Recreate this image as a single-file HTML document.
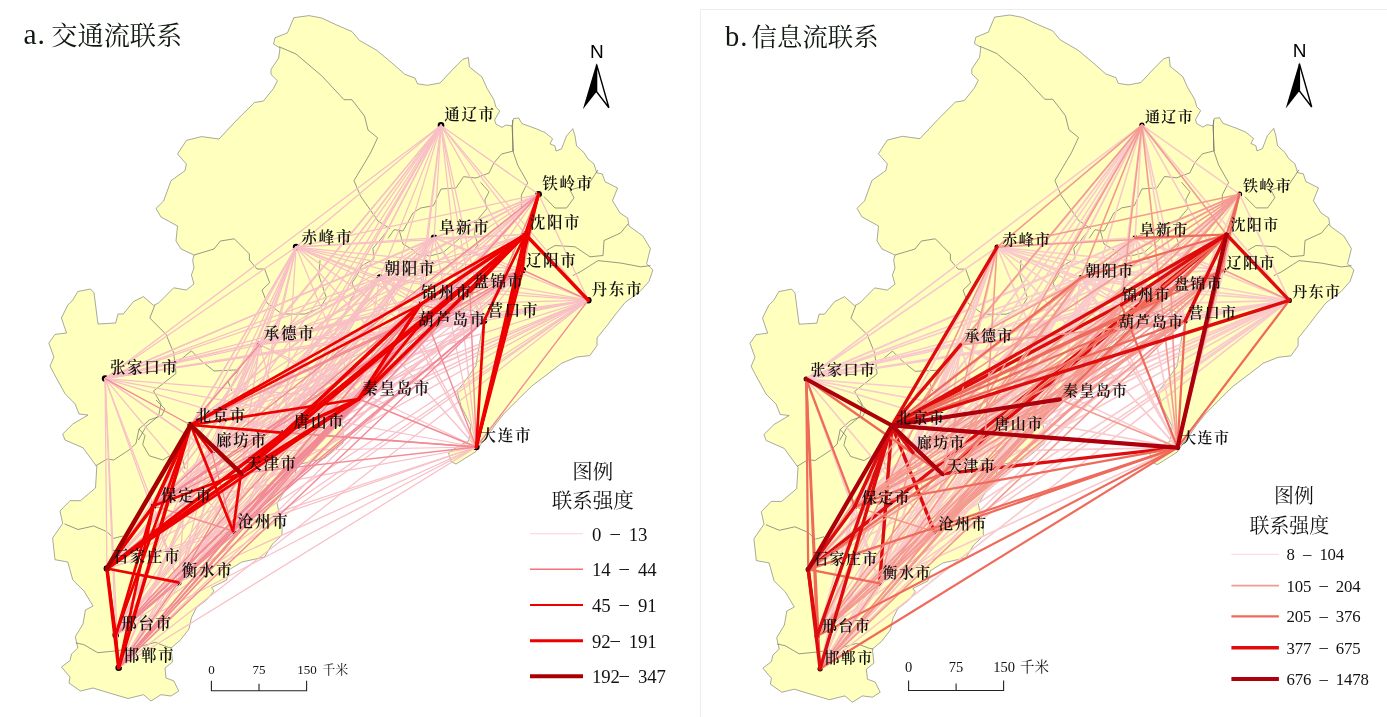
<!DOCTYPE html>
<html lang="zh"><head><meta charset="utf-8"><title>交通流与信息流联系</title><style>
html,body{margin:0;padding:0;background:#fff}
svg{display:block}
.land{fill:#ffffbe;stroke:#6e6e6e;stroke-width:.6;stroke-linejoin:round}
.inner{fill:none;stroke:#6c6c6c;stroke-width:.7}
line{stroke-linecap:round}
line.lg{stroke-linecap:butt}
line.lg.a1{stroke:#fbd3d8;stroke-width:1.1}line.lg.a2{stroke:#f4707a;stroke-width:1.6}line.lg.a3{stroke-width:2}line.lg.a4{stroke-width:3}line.lg.a5{stroke-width:4}
line.lg.b1{stroke:#f9d6da;stroke-width:1}
.a1 line,line.a1{stroke:#f8bfc6;stroke-width:1.25}
.a2 line,line.a2{stroke:#f28a95;stroke-width:1.4}
.a3 line,line.a3{stroke:#ee0000;stroke-width:2.7}
.a4 line,line.a4{stroke:#ee0000;stroke-width:3.5}
.a5 line,line.a5{stroke:#a80000;stroke-width:4.5}
.b1 line,line.b1{stroke:#f9c9cc;stroke-width:1.6}
.b2 line,line.b2{stroke:#f49a90;stroke-width:1.6}
.b3 line,line.b3{stroke:#ef6a5a;stroke-width:2.2}
.b4 line,line.b4{stroke:#de0c0c;stroke-width:3.4}
.b5 line,line.b5{stroke:#ad000c;stroke-width:4.2}
.lab text{font:600 15.5px "Liberation Serif","Noto Serif CJK SC",serif;fill:#111;letter-spacing:1.7px}
.lab.r text{font-size:15px;letter-spacing:1.4px}
.ttl.ab{font-size:29.5px;letter-spacing:1px}
.ttl{font:400 26.2px "Liberation Serif","Noto Serif CJK SC",serif;fill:#10180f}
.N{font:400 19px "Liberation Sans",sans-serif;fill:#000}
.sb text{font-family:"Liberation Serif","Noto Serif CJK SC",serif;fill:#111}
.lt{font-family:"Liberation Serif","Noto Serif CJK SC",serif;fill:#111}
.ll{font-family:"Liberation Serif","Noto Serif CJK SC",serif;fill:#111}
</style></head><body>
<svg width="1387" height="717" viewBox="0 0 1387 717">
<rect width="1387" height="717" fill="#fff"/>
<path d="M700.5 717V9.5H1387" fill="none" stroke="#ececec" stroke-width="1"/>
<polygon class="land" points="293.8,17.7 309.0,15.6 321.6,18.0 336.7,25.0 351.9,31.5 359.4,40.4 377.0,50.5 392.0,63.0 404.9,74.4 415.0,78.0 417.5,83.8 427.6,85.3 440.0,83.0 452.8,69.4 462.9,59.3 468.4,57.5 469.4,66.9 482.0,77.0 487.0,88.3 493.9,99.7 495.9,107.0 499.7,111.0 494.6,120.0 495.9,124.0 502.0,127.4 506.0,125.0 512.0,126.0 513.5,118.6 518.6,118.0 522.0,123.6 536.0,128.7 545.0,132.5 552.6,138.8 550.0,143.8 555.0,146.0 556.0,151.0 561.5,149.0 566.5,136.0 572.8,128.7 575.0,136.0 576.6,146.0 584.0,152.6 588.0,159.0 594.0,164.0 596.8,172.8 602.4,174.0 605.0,181.7 617.6,188.0 612.5,200.7 620.0,213.0 627.7,218.0 629.0,226.0 642.8,236.0 650.4,248.6 646.6,263.7 652.9,270.0 649.0,281.4 640.0,291.5 625.0,302.6 615.0,315.0 607.5,325.0 597.0,338.0 597.0,345.5 589.8,355.6 577.0,357.0 562.0,363.0 549.0,373.0 531.8,386.0 516.6,401.0 504.0,413.6 496.0,423.7 489.0,433.8 481.0,444.0 476.0,451.5 466.0,457.8 456.0,464.0 451.0,461.6 448.5,452.7 458.6,446.0 468.7,441.0 471.0,426.0 466.0,416.0 461.0,406.0 457.0,391.0 463.6,383.0 476.0,365.7 477.5,355.6 481.0,335.0 484.0,322.8 481.0,317.7 474.0,311.0 462.0,309.0 450.0,313.0 440.0,318.0 432.0,322.0 425.0,330.0 418.0,336.0 408.0,346.0 398.0,358.0 388.0,370.0 378.0,382.0 368.0,392.0 360.0,401.0 352.0,408.0 344.0,414.0 340.0,420.0 343.0,428.0 343.0,443.0 325.0,458.0 297.0,465.0 295.0,475.5 277.0,503.0 282.0,526.0 282.0,535.0 272.0,544.6 264.6,557.0 241.9,562.0 229.0,569.8 226.7,580.0 211.6,587.5 214.0,591.0 206.5,600.0 196.4,607.7 191.4,617.7 189.0,629.0 180.0,640.5 171.0,648.0 172.5,662.0 165.0,668.0 166.0,678.0 173.7,680.8 178.8,691.0 171.0,696.0 161.0,694.7 151.0,701.0 143.5,694.7 128.0,698.5 110.6,693.4 93.0,688.0 80.4,691.0 69.0,683.0 70.0,677.0 61.4,667.0 70.0,660.6 71.5,654.0 77.8,648.0 75.3,636.7 83.0,624.0 85.4,610.0 93.0,606.0 84.0,591.0 72.8,580.0 67.8,562.0 55.0,559.7 52.6,538.0 62.7,523.5 60.0,511.0 70.0,500.7 80.4,500.7 95.5,488.0 96.8,466.7 83.0,447.8 65.0,440.0 62.7,434.0 72.8,424.0 88.0,415.0 79.0,414.0 75.0,403.8 65.0,393.7 53.9,373.5 50.0,366.0 53.9,357.0 48.8,343.0 55.0,334.4 66.5,333.0 61.4,318.0 67.8,305.0 72.8,300.0 77.8,291.5 90.5,289.0 94.0,292.8 98.0,324.0 115.7,323.0 118.0,314.0 123.3,314.0 133.4,301.6 143.5,296.6 153.5,305.4 158.6,303.0 173.7,287.8 186.4,290.0 194.0,284.0 191.4,275.0 194.0,268.0 192.7,260.0 194.0,255.0 181.0,249.0 176.0,241.0 177.5,226.0 161.0,217.0 156.0,208.5 163.6,201.0 171.0,180.7 185.0,170.7 186.4,164.0 177.5,154.0 186.4,140.4 201.5,136.6 219.0,139.0 236.8,120.0 254.5,102.5 263.5,101.0 273.6,88.3 277.4,80.7 271.0,74.4 271.0,69.4 278.7,58.0 280.0,48.0 273.6,44.0 275.0,37.8 287.5,32.8"/>
<polyline class="inner" points="279.0,46.7 296.0,54.0 321.6,75.7 344.0,99.7 352.0,99.7 358.0,107.6 364.5,116.0 368.0,130.0 377.6,137.8 370.5,153.0 354.0,180.7 360.5,196.0 378.0,221.0 390.0,228.7"/>
<polyline class="inner" points="194.0,255.0 214.0,249.0 220.4,241.0 234.3,238.8 249.4,254.0 249.4,260.0 257.0,269.0 264.6,269.0 269.6,282.7 262.0,290.0 267.0,303.0 282.0,314.0 305.0,314.0 320.0,308.0 326.4,297.8 318.8,275.0 320.0,260.0"/>
<polyline class="inner" points="154.8,305.4 149.8,318.0 166.0,334.4 173.7,353.0 176.0,373.5 153.5,391.0 161.0,403.8 158.6,416.0 146.0,426.5 138.4,440.0"/>
<polyline class="inner" points="176.0,363.5 191.4,350.8 201.5,361.0 214.0,371.0 239.0,369.8 228.0,381.0 231.8,391.0"/>
<polyline class="inner" points="512.0,126.0 513.5,151.0 501.5,154.0 494.0,162.8 489.0,173.0 476.0,178.0 463.6,176.7 456.0,188.0 441.0,189.0 433.4,205.7 420.7,208.0 413.0,213.0 403.0,231.0 394.0,229.7 388.0,238.5"/>
<polyline class="inner" points="95.8,465.8 107.0,459.0 113.7,460.0 129.0,450.0 136.0,443.5 139.0,429.0 149.4,420.0 161.7,415.6 165.0,409.0 156.0,400.0"/>
<polyline class="inner" points="139.0,429.0 145.0,435.7 142.7,444.6 149.4,455.8 162.8,460.0 169.5,455.8 183.0,460.0 185.0,469.0"/>
<polyline class="inner" points="64.6,523.9 78.0,529.5 93.6,526.0 107.0,531.7 113.7,538.4 122.6,536.0 129.3,542.9"/>
<polyline class="inner" points="512.6,120.0 512.6,150.0 517.6,165.0 527.7,182.8 521.4,195.0 521.4,210.0"/>
<polyline class="inner" points="544.0,196.6 555.0,208.0 566.6,208.0 574.0,197.8 570.0,190.0 588.0,185.0 598.0,170.0"/>
<polyline class="inner" points="546.5,250.5 555.0,245.5 575.0,246.8 590.0,256.8 603.0,255.5 604.0,240.5 620.5,233.0 628.0,224.0"/>
<polyline class="inner" points="572.8,275.6 580.0,272.0 598.0,260.6 620.5,263.0 640.6,266.8 650.6,265.6"/>
<polyline class="inner" points="75.8,642.9 83.8,644.6 97.7,652.7 115.0,651.0 135.0,648.0 155.3,642.3 166.9,646.9 172.0,648.0"/>
<polyline class="inner" points="387.5,230.5 380.0,240.0 372.9,248.3 374.0,258.8 361.4,266.0 357.0,275.5 352.0,283.0 356.0,292.0 350.0,300.0"/>
<polyline class="inner" points="480.6,182.4 489.0,191.8 484.8,200.0 486.9,208.6 476.4,221.0 474.4,233.7 478.0,245.0 470.0,255.0"/>
<polyline class="inner" points="399.0,229.5 403.0,244.0 413.7,250.4 417.9,254.6 430.0,256.0 443.0,252.5 455.5,242.0 462.0,236.0"/>
<g class="dots"><circle cx="441.0" cy="125.4" r="3.3"/><circle cx="538.6" cy="194.3" r="3.3"/><circle cx="525.5" cy="234.5" r="3.3"/><circle cx="434.1" cy="237.8" r="3.3"/><circle cx="296.1" cy="247.1" r="3.3"/><circle cx="379.9" cy="277.6" r="3.3"/><circle cx="420.3" cy="304.6" r="3.3"/><circle cx="470.0" cy="292.0" r="3.3"/><circle cx="522.7" cy="270.0" r="3.3"/><circle cx="588.3" cy="300.2" r="3.3"/><circle cx="484.0" cy="320.8" r="3.3"/><circle cx="415.0" cy="330.6" r="3.3"/><circle cx="259.5" cy="344.5" r="3.3"/><circle cx="105.1" cy="378.6" r="3.3"/><circle cx="358.7" cy="399.0" r="3.3"/><circle cx="190.7" cy="425.0" r="3.3"/><circle cx="284.0" cy="432.8" r="3.3"/><circle cx="211.8" cy="452.0" r="3.3"/><circle cx="241.0" cy="473.3" r="3.3"/><circle cx="476.3" cy="447.0" r="3.3"/><circle cx="153.5" cy="505.8" r="3.3"/><circle cx="233.0" cy="531.0" r="3.3"/><circle cx="106.9" cy="568.5" r="3.3"/><circle cx="178.3" cy="582.4" r="3.3"/><circle cx="115.7" cy="635.0" r="3.3"/><circle cx="118.7" cy="667.7" r="3.3"/></g>
<g class="a1"><line x1="441.0" y1="125.4" x2="538.6" y2="194.3"/><line x1="441.0" y1="125.4" x2="525.5" y2="234.5"/><line x1="441.0" y1="125.4" x2="434.1" y2="237.8"/><line x1="441.0" y1="125.4" x2="296.1" y2="247.1"/><line x1="441.0" y1="125.4" x2="379.9" y2="277.6"/><line x1="441.0" y1="125.4" x2="420.3" y2="304.6"/><line x1="441.0" y1="125.4" x2="470.0" y2="292.0"/><line x1="441.0" y1="125.4" x2="522.7" y2="270.0"/><line x1="441.0" y1="125.4" x2="588.3" y2="300.2"/><line x1="441.0" y1="125.4" x2="484.0" y2="320.8"/><line x1="441.0" y1="125.4" x2="415.0" y2="330.6"/><line x1="441.0" y1="125.4" x2="259.5" y2="344.5"/><line x1="441.0" y1="125.4" x2="105.1" y2="378.6"/><line x1="441.0" y1="125.4" x2="358.7" y2="399.0"/><line x1="441.0" y1="125.4" x2="190.7" y2="425.0"/><line x1="441.0" y1="125.4" x2="284.0" y2="432.8"/><line x1="441.0" y1="125.4" x2="211.8" y2="452.0"/><line x1="441.0" y1="125.4" x2="241.0" y2="473.3"/><line x1="441.0" y1="125.4" x2="476.3" y2="447.0"/><line x1="441.0" y1="125.4" x2="153.5" y2="505.8"/><line x1="441.0" y1="125.4" x2="233.0" y2="531.0"/><line x1="441.0" y1="125.4" x2="106.9" y2="568.5"/><line x1="441.0" y1="125.4" x2="178.3" y2="582.4"/><line x1="441.0" y1="125.4" x2="115.7" y2="635.0"/><line x1="441.0" y1="125.4" x2="118.7" y2="667.7"/><line x1="538.6" y1="194.3" x2="434.1" y2="237.8"/><line x1="538.6" y1="194.3" x2="296.1" y2="247.1"/><line x1="538.6" y1="194.3" x2="379.9" y2="277.6"/><line x1="538.6" y1="194.3" x2="420.3" y2="304.6"/><line x1="538.6" y1="194.3" x2="470.0" y2="292.0"/><line x1="538.6" y1="194.3" x2="588.3" y2="300.2"/><line x1="538.6" y1="194.3" x2="415.0" y2="330.6"/><line x1="538.6" y1="194.3" x2="259.5" y2="344.5"/><line x1="538.6" y1="194.3" x2="105.1" y2="378.6"/><line x1="538.6" y1="194.3" x2="358.7" y2="399.0"/><line x1="538.6" y1="194.3" x2="190.7" y2="425.0"/><line x1="538.6" y1="194.3" x2="284.0" y2="432.8"/><line x1="538.6" y1="194.3" x2="241.0" y2="473.3"/><line x1="538.6" y1="194.3" x2="153.5" y2="505.8"/><line x1="538.6" y1="194.3" x2="106.9" y2="568.5"/><line x1="538.6" y1="194.3" x2="178.3" y2="582.4"/><line x1="538.6" y1="194.3" x2="115.7" y2="635.0"/><line x1="538.6" y1="194.3" x2="118.7" y2="667.7"/><line x1="525.5" y1="234.5" x2="434.1" y2="237.8"/><line x1="525.5" y1="234.5" x2="296.1" y2="247.1"/><line x1="525.5" y1="234.5" x2="379.9" y2="277.6"/><line x1="525.5" y1="234.5" x2="259.5" y2="344.5"/><line x1="525.5" y1="234.5" x2="105.1" y2="378.6"/><line x1="525.5" y1="234.5" x2="211.8" y2="452.0"/><line x1="525.5" y1="234.5" x2="153.5" y2="505.8"/><line x1="525.5" y1="234.5" x2="233.0" y2="531.0"/><line x1="525.5" y1="234.5" x2="106.9" y2="568.5"/><line x1="525.5" y1="234.5" x2="118.7" y2="667.7"/><line x1="434.1" y1="237.8" x2="296.1" y2="247.1"/><line x1="434.1" y1="237.8" x2="379.9" y2="277.6"/><line x1="434.1" y1="237.8" x2="420.3" y2="304.6"/><line x1="434.1" y1="237.8" x2="470.0" y2="292.0"/><line x1="434.1" y1="237.8" x2="522.7" y2="270.0"/><line x1="434.1" y1="237.8" x2="588.3" y2="300.2"/><line x1="434.1" y1="237.8" x2="484.0" y2="320.8"/><line x1="434.1" y1="237.8" x2="415.0" y2="330.6"/><line x1="434.1" y1="237.8" x2="259.5" y2="344.5"/><line x1="434.1" y1="237.8" x2="105.1" y2="378.6"/><line x1="434.1" y1="237.8" x2="358.7" y2="399.0"/><line x1="434.1" y1="237.8" x2="190.7" y2="425.0"/><line x1="434.1" y1="237.8" x2="284.0" y2="432.8"/><line x1="434.1" y1="237.8" x2="211.8" y2="452.0"/><line x1="434.1" y1="237.8" x2="241.0" y2="473.3"/><line x1="434.1" y1="237.8" x2="476.3" y2="447.0"/><line x1="434.1" y1="237.8" x2="153.5" y2="505.8"/><line x1="434.1" y1="237.8" x2="233.0" y2="531.0"/><line x1="434.1" y1="237.8" x2="106.9" y2="568.5"/><line x1="434.1" y1="237.8" x2="178.3" y2="582.4"/><line x1="434.1" y1="237.8" x2="115.7" y2="635.0"/><line x1="434.1" y1="237.8" x2="118.7" y2="667.7"/><line x1="296.1" y1="247.1" x2="379.9" y2="277.6"/><line x1="296.1" y1="247.1" x2="420.3" y2="304.6"/><line x1="296.1" y1="247.1" x2="470.0" y2="292.0"/><line x1="296.1" y1="247.1" x2="522.7" y2="270.0"/><line x1="296.1" y1="247.1" x2="588.3" y2="300.2"/><line x1="296.1" y1="247.1" x2="484.0" y2="320.8"/><line x1="296.1" y1="247.1" x2="415.0" y2="330.6"/><line x1="296.1" y1="247.1" x2="259.5" y2="344.5"/><line x1="296.1" y1="247.1" x2="105.1" y2="378.6"/><line x1="296.1" y1="247.1" x2="358.7" y2="399.0"/><line x1="296.1" y1="247.1" x2="190.7" y2="425.0"/><line x1="296.1" y1="247.1" x2="284.0" y2="432.8"/><line x1="296.1" y1="247.1" x2="211.8" y2="452.0"/><line x1="296.1" y1="247.1" x2="241.0" y2="473.3"/><line x1="296.1" y1="247.1" x2="476.3" y2="447.0"/><line x1="296.1" y1="247.1" x2="153.5" y2="505.8"/><line x1="296.1" y1="247.1" x2="233.0" y2="531.0"/><line x1="296.1" y1="247.1" x2="106.9" y2="568.5"/><line x1="296.1" y1="247.1" x2="178.3" y2="582.4"/><line x1="296.1" y1="247.1" x2="115.7" y2="635.0"/><line x1="296.1" y1="247.1" x2="118.7" y2="667.7"/><line x1="379.9" y1="277.6" x2="420.3" y2="304.6"/><line x1="379.9" y1="277.6" x2="470.0" y2="292.0"/><line x1="379.9" y1="277.6" x2="522.7" y2="270.0"/><line x1="379.9" y1="277.6" x2="588.3" y2="300.2"/><line x1="379.9" y1="277.6" x2="484.0" y2="320.8"/><line x1="379.9" y1="277.6" x2="415.0" y2="330.6"/><line x1="379.9" y1="277.6" x2="259.5" y2="344.5"/><line x1="379.9" y1="277.6" x2="105.1" y2="378.6"/><line x1="379.9" y1="277.6" x2="358.7" y2="399.0"/><line x1="379.9" y1="277.6" x2="190.7" y2="425.0"/><line x1="379.9" y1="277.6" x2="284.0" y2="432.8"/><line x1="379.9" y1="277.6" x2="211.8" y2="452.0"/><line x1="379.9" y1="277.6" x2="241.0" y2="473.3"/><line x1="379.9" y1="277.6" x2="476.3" y2="447.0"/><line x1="379.9" y1="277.6" x2="153.5" y2="505.8"/><line x1="379.9" y1="277.6" x2="233.0" y2="531.0"/><line x1="379.9" y1="277.6" x2="106.9" y2="568.5"/><line x1="379.9" y1="277.6" x2="178.3" y2="582.4"/><line x1="379.9" y1="277.6" x2="115.7" y2="635.0"/><line x1="379.9" y1="277.6" x2="118.7" y2="667.7"/><line x1="420.3" y1="304.6" x2="470.0" y2="292.0"/><line x1="420.3" y1="304.6" x2="588.3" y2="300.2"/><line x1="420.3" y1="304.6" x2="415.0" y2="330.6"/><line x1="420.3" y1="304.6" x2="259.5" y2="344.5"/><line x1="420.3" y1="304.6" x2="105.1" y2="378.6"/><line x1="420.3" y1="304.6" x2="211.8" y2="452.0"/><line x1="420.3" y1="304.6" x2="153.5" y2="505.8"/><line x1="420.3" y1="304.6" x2="178.3" y2="582.4"/><line x1="470.0" y1="292.0" x2="522.7" y2="270.0"/><line x1="470.0" y1="292.0" x2="588.3" y2="300.2"/><line x1="470.0" y1="292.0" x2="484.0" y2="320.8"/><line x1="470.0" y1="292.0" x2="415.0" y2="330.6"/><line x1="470.0" y1="292.0" x2="259.5" y2="344.5"/><line x1="470.0" y1="292.0" x2="105.1" y2="378.6"/><line x1="470.0" y1="292.0" x2="358.7" y2="399.0"/><line x1="470.0" y1="292.0" x2="211.8" y2="452.0"/><line x1="470.0" y1="292.0" x2="241.0" y2="473.3"/><line x1="470.0" y1="292.0" x2="233.0" y2="531.0"/><line x1="470.0" y1="292.0" x2="106.9" y2="568.5"/><line x1="522.7" y1="270.0" x2="484.0" y2="320.8"/><line x1="522.7" y1="270.0" x2="259.5" y2="344.5"/><line x1="522.7" y1="270.0" x2="105.1" y2="378.6"/><line x1="522.7" y1="270.0" x2="358.7" y2="399.0"/><line x1="522.7" y1="270.0" x2="284.0" y2="432.8"/><line x1="522.7" y1="270.0" x2="211.8" y2="452.0"/><line x1="522.7" y1="270.0" x2="241.0" y2="473.3"/><line x1="522.7" y1="270.0" x2="233.0" y2="531.0"/><line x1="522.7" y1="270.0" x2="106.9" y2="568.5"/><line x1="522.7" y1="270.0" x2="178.3" y2="582.4"/><line x1="522.7" y1="270.0" x2="115.7" y2="635.0"/><line x1="522.7" y1="270.0" x2="118.7" y2="667.7"/><line x1="588.3" y1="300.2" x2="484.0" y2="320.8"/><line x1="588.3" y1="300.2" x2="415.0" y2="330.6"/><line x1="588.3" y1="300.2" x2="259.5" y2="344.5"/><line x1="588.3" y1="300.2" x2="105.1" y2="378.6"/><line x1="588.3" y1="300.2" x2="358.7" y2="399.0"/><line x1="588.3" y1="300.2" x2="190.7" y2="425.0"/><line x1="588.3" y1="300.2" x2="284.0" y2="432.8"/><line x1="588.3" y1="300.2" x2="211.8" y2="452.0"/><line x1="588.3" y1="300.2" x2="241.0" y2="473.3"/><line x1="588.3" y1="300.2" x2="153.5" y2="505.8"/><line x1="588.3" y1="300.2" x2="233.0" y2="531.0"/><line x1="588.3" y1="300.2" x2="106.9" y2="568.5"/><line x1="588.3" y1="300.2" x2="178.3" y2="582.4"/><line x1="588.3" y1="300.2" x2="115.7" y2="635.0"/><line x1="588.3" y1="300.2" x2="118.7" y2="667.7"/><line x1="484.0" y1="320.8" x2="415.0" y2="330.6"/><line x1="484.0" y1="320.8" x2="259.5" y2="344.5"/><line x1="484.0" y1="320.8" x2="105.1" y2="378.6"/><line x1="484.0" y1="320.8" x2="358.7" y2="399.0"/><line x1="484.0" y1="320.8" x2="190.7" y2="425.0"/><line x1="484.0" y1="320.8" x2="284.0" y2="432.8"/><line x1="484.0" y1="320.8" x2="211.8" y2="452.0"/><line x1="484.0" y1="320.8" x2="241.0" y2="473.3"/><line x1="484.0" y1="320.8" x2="153.5" y2="505.8"/><line x1="484.0" y1="320.8" x2="106.9" y2="568.5"/><line x1="484.0" y1="320.8" x2="178.3" y2="582.4"/><line x1="415.0" y1="330.6" x2="259.5" y2="344.5"/><line x1="415.0" y1="330.6" x2="105.1" y2="378.6"/><line x1="415.0" y1="330.6" x2="190.7" y2="425.0"/><line x1="415.0" y1="330.6" x2="284.0" y2="432.8"/><line x1="415.0" y1="330.6" x2="211.8" y2="452.0"/><line x1="415.0" y1="330.6" x2="241.0" y2="473.3"/><line x1="415.0" y1="330.6" x2="476.3" y2="447.0"/><line x1="415.0" y1="330.6" x2="233.0" y2="531.0"/><line x1="415.0" y1="330.6" x2="106.9" y2="568.5"/><line x1="415.0" y1="330.6" x2="178.3" y2="582.4"/><line x1="415.0" y1="330.6" x2="115.7" y2="635.0"/><line x1="259.5" y1="344.5" x2="105.1" y2="378.6"/><line x1="259.5" y1="344.5" x2="358.7" y2="399.0"/><line x1="259.5" y1="344.5" x2="284.0" y2="432.8"/><line x1="259.5" y1="344.5" x2="211.8" y2="452.0"/><line x1="259.5" y1="344.5" x2="241.0" y2="473.3"/><line x1="259.5" y1="344.5" x2="476.3" y2="447.0"/><line x1="259.5" y1="344.5" x2="153.5" y2="505.8"/><line x1="259.5" y1="344.5" x2="233.0" y2="531.0"/><line x1="259.5" y1="344.5" x2="106.9" y2="568.5"/><line x1="259.5" y1="344.5" x2="178.3" y2="582.4"/><line x1="259.5" y1="344.5" x2="115.7" y2="635.0"/><line x1="259.5" y1="344.5" x2="118.7" y2="667.7"/><line x1="105.1" y1="378.6" x2="358.7" y2="399.0"/><line x1="105.1" y1="378.6" x2="284.0" y2="432.8"/><line x1="105.1" y1="378.6" x2="211.8" y2="452.0"/><line x1="105.1" y1="378.6" x2="241.0" y2="473.3"/><line x1="105.1" y1="378.6" x2="476.3" y2="447.0"/><line x1="105.1" y1="378.6" x2="153.5" y2="505.8"/><line x1="105.1" y1="378.6" x2="233.0" y2="531.0"/><line x1="105.1" y1="378.6" x2="106.9" y2="568.5"/><line x1="105.1" y1="378.6" x2="178.3" y2="582.4"/><line x1="105.1" y1="378.6" x2="115.7" y2="635.0"/><line x1="105.1" y1="378.6" x2="118.7" y2="667.7"/><line x1="358.7" y1="399.0" x2="211.8" y2="452.0"/><line x1="358.7" y1="399.0" x2="233.0" y2="531.0"/><line x1="190.7" y1="425.0" x2="178.3" y2="582.4"/><line x1="284.0" y1="432.8" x2="211.8" y2="452.0"/><line x1="284.0" y1="432.8" x2="153.5" y2="505.8"/><line x1="284.0" y1="432.8" x2="233.0" y2="531.0"/><line x1="284.0" y1="432.8" x2="178.3" y2="582.4"/><line x1="284.0" y1="432.8" x2="115.7" y2="635.0"/><line x1="284.0" y1="432.8" x2="118.7" y2="667.7"/><line x1="211.8" y1="452.0" x2="241.0" y2="473.3"/><line x1="211.8" y1="452.0" x2="476.3" y2="447.0"/><line x1="211.8" y1="452.0" x2="106.9" y2="568.5"/><line x1="211.8" y1="452.0" x2="178.3" y2="582.4"/><line x1="211.8" y1="452.0" x2="115.7" y2="635.0"/><line x1="211.8" y1="452.0" x2="118.7" y2="667.7"/><line x1="241.0" y1="473.3" x2="115.7" y2="635.0"/><line x1="241.0" y1="473.3" x2="118.7" y2="667.7"/><line x1="476.3" y1="447.0" x2="153.5" y2="505.8"/><line x1="476.3" y1="447.0" x2="233.0" y2="531.0"/><line x1="476.3" y1="447.0" x2="106.9" y2="568.5"/><line x1="476.3" y1="447.0" x2="178.3" y2="582.4"/><line x1="476.3" y1="447.0" x2="115.7" y2="635.0"/><line x1="476.3" y1="447.0" x2="118.7" y2="667.7"/><line x1="153.5" y1="505.8" x2="178.3" y2="582.4"/><line x1="233.0" y1="531.0" x2="106.9" y2="568.5"/><line x1="178.3" y1="582.4" x2="115.7" y2="635.0"/></g>
<g class="a2"><line x1="538.6" y1="194.3" x2="522.7" y2="270.0"/><line x1="538.6" y1="194.3" x2="484.0" y2="320.8"/><line x1="538.6" y1="194.3" x2="211.8" y2="452.0"/><line x1="538.6" y1="194.3" x2="233.0" y2="531.0"/><line x1="525.5" y1="234.5" x2="178.3" y2="582.4"/><line x1="525.5" y1="234.5" x2="115.7" y2="635.0"/><line x1="420.3" y1="304.6" x2="522.7" y2="270.0"/><line x1="420.3" y1="304.6" x2="484.0" y2="320.8"/><line x1="420.3" y1="304.6" x2="476.3" y2="447.0"/><line x1="420.3" y1="304.6" x2="233.0" y2="531.0"/><line x1="420.3" y1="304.6" x2="106.9" y2="568.5"/><line x1="420.3" y1="304.6" x2="115.7" y2="635.0"/><line x1="420.3" y1="304.6" x2="118.7" y2="667.7"/><line x1="470.0" y1="292.0" x2="190.7" y2="425.0"/><line x1="470.0" y1="292.0" x2="284.0" y2="432.8"/><line x1="470.0" y1="292.0" x2="476.3" y2="447.0"/><line x1="470.0" y1="292.0" x2="153.5" y2="505.8"/><line x1="470.0" y1="292.0" x2="178.3" y2="582.4"/><line x1="470.0" y1="292.0" x2="115.7" y2="635.0"/><line x1="470.0" y1="292.0" x2="118.7" y2="667.7"/><line x1="522.7" y1="270.0" x2="588.3" y2="300.2"/><line x1="522.7" y1="270.0" x2="415.0" y2="330.6"/><line x1="522.7" y1="270.0" x2="190.7" y2="425.0"/><line x1="522.7" y1="270.0" x2="153.5" y2="505.8"/><line x1="588.3" y1="300.2" x2="476.3" y2="447.0"/><line x1="484.0" y1="320.8" x2="233.0" y2="531.0"/><line x1="484.0" y1="320.8" x2="115.7" y2="635.0"/><line x1="484.0" y1="320.8" x2="118.7" y2="667.7"/><line x1="415.0" y1="330.6" x2="153.5" y2="505.8"/><line x1="415.0" y1="330.6" x2="118.7" y2="667.7"/><line x1="259.5" y1="344.5" x2="190.7" y2="425.0"/><line x1="105.1" y1="378.6" x2="190.7" y2="425.0"/><line x1="358.7" y1="399.0" x2="476.3" y2="447.0"/><line x1="358.7" y1="399.0" x2="153.5" y2="505.8"/><line x1="358.7" y1="399.0" x2="178.3" y2="582.4"/><line x1="358.7" y1="399.0" x2="115.7" y2="635.0"/><line x1="358.7" y1="399.0" x2="118.7" y2="667.7"/><line x1="190.7" y1="425.0" x2="476.3" y2="447.0"/><line x1="284.0" y1="432.8" x2="476.3" y2="447.0"/><line x1="211.8" y1="452.0" x2="153.5" y2="505.8"/><line x1="211.8" y1="452.0" x2="233.0" y2="531.0"/><line x1="241.0" y1="473.3" x2="476.3" y2="447.0"/><line x1="241.0" y1="473.3" x2="178.3" y2="582.4"/><line x1="153.5" y1="505.8" x2="233.0" y2="531.0"/><line x1="233.0" y1="531.0" x2="178.3" y2="582.4"/><line x1="233.0" y1="531.0" x2="115.7" y2="635.0"/><line x1="233.0" y1="531.0" x2="118.7" y2="667.7"/><line x1="178.3" y1="582.4" x2="118.7" y2="667.7"/></g>
<g class="a3"><line x1="190.7" y1="425.0" x2="525.5" y2="234.5"/><line x1="190.7" y1="425.0" x2="420.3" y2="304.6"/><line x1="190.7" y1="425.0" x2="284.0" y2="432.8"/><line x1="190.7" y1="425.0" x2="358.7" y2="399.0"/><line x1="190.7" y1="425.0" x2="233.0" y2="531.0"/><line x1="190.7" y1="425.0" x2="211.8" y2="452.0"/><line x1="190.7" y1="425.0" x2="115.7" y2="635.0"/><line x1="241.0" y1="473.3" x2="233.0" y2="531.0"/><line x1="241.0" y1="473.3" x2="153.5" y2="505.8"/><line x1="106.9" y1="568.5" x2="115.7" y2="635.0"/><line x1="106.9" y1="568.5" x2="178.3" y2="582.4"/><line x1="118.7" y1="667.7" x2="153.5" y2="505.8"/><line x1="115.7" y1="635.0" x2="153.5" y2="505.8"/><line x1="118.7" y1="667.7" x2="115.7" y2="635.0"/><line x1="525.5" y1="234.5" x2="484.0" y2="320.8"/><line x1="484.0" y1="320.8" x2="476.3" y2="447.0"/><line x1="522.7" y1="270.0" x2="476.3" y2="447.0"/><line x1="538.6" y1="194.3" x2="476.3" y2="447.0"/><line x1="525.5" y1="234.5" x2="284.0" y2="432.8"/><line x1="525.5" y1="234.5" x2="415.0" y2="330.6"/><line x1="420.3" y1="304.6" x2="284.0" y2="432.8"/><line x1="415.0" y1="330.6" x2="358.7" y2="399.0"/><line x1="525.5" y1="234.5" x2="470.0" y2="292.0"/><line x1="525.5" y1="234.5" x2="522.7" y2="270.0"/><line x1="106.9" y1="568.5" x2="358.7" y2="399.0"/></g>
<g class="a4"><line x1="525.5" y1="234.5" x2="538.6" y2="194.3"/><line x1="525.5" y1="234.5" x2="588.3" y2="300.2"/><line x1="525.5" y1="234.5" x2="476.3" y2="447.0"/><line x1="525.5" y1="234.5" x2="420.3" y2="304.6"/><line x1="420.3" y1="304.6" x2="358.7" y2="399.0"/><line x1="284.0" y1="432.8" x2="358.7" y2="399.0"/><line x1="241.0" y1="473.3" x2="284.0" y2="432.8"/><line x1="241.0" y1="473.3" x2="358.7" y2="399.0"/><line x1="525.5" y1="234.5" x2="358.7" y2="399.0"/><line x1="106.9" y1="568.5" x2="118.7" y2="667.7"/><line x1="190.7" y1="425.0" x2="153.5" y2="505.8"/><line x1="190.7" y1="425.0" x2="118.7" y2="667.7"/><line x1="106.9" y1="568.5" x2="153.5" y2="505.8"/><line x1="106.9" y1="568.5" x2="241.0" y2="473.3"/><line x1="106.9" y1="568.5" x2="284.0" y2="432.8"/><line x1="241.0" y1="473.3" x2="420.3" y2="304.6"/><line x1="241.0" y1="473.3" x2="525.5" y2="234.5"/></g>
<g class="a5"><line x1="190.7" y1="425.0" x2="241.0" y2="473.3"/><line x1="190.7" y1="425.0" x2="106.9" y2="568.5"/></g>
<g class="lab"><text x="444.2" y="119.5">通辽市</text><text x="542.2" y="189.1">铁岭市</text><text x="529.7" y="228.2">沈阳市</text><text x="438.9" y="233.2">阜新市</text><text x="301.6" y="242.8">赤峰市</text><text x="384.6" y="273.5">朝阳市</text><text x="421.2" y="298.1">锦州市</text><text x="473.2" y="286.8">盘锦市</text><text x="525.9" y="265.5">辽阳市</text><text x="591.5" y="295.0">丹东市</text><text x="487.6" y="315.7">营口市</text><text x="418.2" y="325.1">葫芦岛市</text><text x="263.8" y="339.2">承德市</text><text x="109.9" y="373.3">张家口市</text><text x="362.2" y="393.5">秦皇岛市</text><text x="195.4" y="421.1">北京市</text><text x="293.7" y="427.3">唐山市</text><text x="216.1" y="446.1">廊坊市</text><text x="246.2" y="468.5">天津市</text><text x="480.5" y="440.7">大连市</text><text x="161.1" y="500.5">保定市</text><text x="237.8" y="527.0">沧州市</text><text x="112.4" y="562.3">石家庄市</text><text x="181.8" y="575.5">衡水市</text><text x="121.2" y="628.9">邢台市</text><text x="123.7" y="660.9">邯郸市</text></g>
<polygon class="land" points="994.6,17.1 1009.8,15.0 1022.4,17.4 1037.5,24.4 1052.7,30.9 1060.2,39.9 1077.8,50.0 1092.8,62.5 1105.7,73.9 1115.8,77.6 1118.3,83.4 1128.4,84.9 1140.8,82.6 1153.6,68.9 1163.7,58.8 1169.2,57.0 1170.2,66.4 1182.8,76.6 1187.8,87.9 1194.7,99.3 1196.7,106.6 1200.6,110.6 1195.5,119.7 1196.8,123.7 1202.9,127.1 1206.9,124.7 1212.9,125.7 1214.4,118.3 1219.5,117.7 1222.9,123.3 1236.9,128.4 1245.9,132.2 1253.5,138.5 1250.9,143.5 1255.9,145.7 1256.9,150.8 1262.4,148.7 1267.4,135.7 1273.7,128.4 1275.9,135.7 1277.5,145.7 1284.9,152.4 1288.9,158.8 1294.9,163.8 1297.7,172.6 1303.3,173.8 1305.9,181.5 1318.5,187.9 1313.4,200.6 1321.0,212.9 1328.7,217.9 1330.0,226.0 1343.8,236.0 1351.4,248.6 1347.6,263.8 1353.9,270.1 1350.0,281.5 1341.0,291.6 1326.0,302.8 1316.1,315.2 1308.6,325.2 1298.1,338.3 1298.1,345.8 1290.9,355.9 1278.1,357.3 1263.1,363.3 1250.1,373.4 1232.9,386.4 1217.7,401.4 1205.2,414.1 1197.2,424.2 1190.2,434.3 1182.2,444.5 1177.2,452.1 1167.2,458.4 1157.2,464.6 1152.2,462.2 1149.7,453.3 1159.8,446.5 1169.9,441.5 1172.2,426.5 1167.2,416.5 1162.1,406.4 1158.1,391.4 1164.7,383.4 1177.1,366.0 1178.6,355.9 1182.1,335.2 1185.1,323.0 1182.1,317.9 1175.1,311.2 1163.1,309.2 1151.1,313.2 1141.1,318.2 1133.1,322.2 1126.1,330.2 1119.1,336.3 1109.1,346.3 1099.1,358.3 1089.1,370.3 1079.1,382.4 1069.1,392.4 1061.1,401.4 1053.2,408.4 1045.2,414.5 1041.2,420.5 1044.2,428.5 1044.2,443.5 1026.2,458.6 998.2,465.6 996.2,476.1 978.2,503.7 983.3,526.8 983.3,535.8 973.3,545.4 965.9,557.8 943.2,562.9 930.3,570.7 928.0,580.9 912.9,588.4 915.3,591.9 907.8,601.0 897.8,608.7 892.8,618.7 890.4,630.0 881.4,641.6 872.4,649.1 873.9,663.1 866.4,669.1 867.4,679.2 875.1,682.0 880.2,692.2 872.4,697.2 862.4,695.9 852.4,702.2 844.9,695.9 829.4,699.7 812.0,694.6 794.4,689.2 781.8,692.2 770.4,684.2 771.4,678.2 762.8,668.1 771.4,661.7 772.9,655.1 779.2,649.1 776.7,637.8 784.4,625.0 786.8,611.0 794.3,607.0 785.3,591.9 774.1,580.9 769.1,562.9 756.3,560.6 753.9,538.8 764.0,524.3 761.3,511.7 771.2,501.4 781.6,501.4 796.7,488.7 798.0,467.3 784.2,448.4 766.2,440.5 763.9,434.5 774.0,424.5 789.2,415.5 780.2,414.5 776.1,404.2 766.1,394.1 755.0,373.9 751.1,366.3 755.0,357.3 749.9,343.3 756.1,334.6 767.6,333.2 762.5,318.2 768.8,305.2 773.8,300.2 778.8,291.6 791.5,289.1 795.0,292.9 799.1,324.2 816.8,323.2 819.1,314.2 824.4,314.2 834.4,301.8 844.5,296.7 854.5,305.6 859.6,303.2 874.7,287.9 887.4,290.1 895.0,284.1 892.4,275.1 895.0,268.1 893.7,260.0 895.0,255.0 882.0,249.0 877.0,241.0 878.5,226.0 862.0,216.9 857.0,208.4 864.5,200.9 871.9,180.5 885.9,170.5 887.3,163.8 878.4,153.8 887.3,140.1 902.4,136.3 919.9,138.7 937.7,119.7 955.3,102.1 964.3,100.6 974.4,87.9 978.2,80.3 971.8,73.9 971.8,68.9 979.5,57.5 980.8,47.5 974.4,43.5 975.8,37.2 988.3,32.2"/>
<polyline class="inner" points="979.8,46.2 996.8,53.5 1022.4,75.2 1044.8,99.3 1052.8,99.3 1058.9,107.2 1065.4,115.7 1068.9,129.7 1078.5,137.5 1071.4,152.8 1054.9,180.5 1061.4,195.9 1079.0,220.9 1091.0,228.7"/>
<polyline class="inner" points="895.0,255.0 915.0,249.0 921.4,241.0 935.3,238.8 950.4,254.0 950.4,260.0 958.0,269.1 965.6,269.1 970.6,282.8 963.0,290.1 968.0,303.2 983.1,314.2 1006.1,314.2 1021.1,308.2 1027.4,297.9 1019.8,275.1 1021.0,260.0"/>
<polyline class="inner" points="855.8,305.6 850.9,318.2 867.1,334.6 874.8,353.3 877.1,373.9 854.6,391.4 862.1,404.2 859.8,416.5 847.2,427.0 839.6,440.5"/>
<polyline class="inner" points="877.1,363.8 892.5,351.1 902.6,361.3 915.1,371.3 940.1,370.1 929.1,381.4 932.9,391.4"/>
<polyline class="inner" points="1212.9,125.7 1214.4,150.8 1202.4,153.8 1194.9,162.6 1189.9,172.8 1176.9,177.8 1164.5,176.5 1156.9,187.9 1141.9,188.9 1134.3,205.6 1121.7,207.9 1114.0,212.9 1104.0,231.0 1095.0,229.7 1089.0,238.5"/>
<polyline class="inner" points="797.0,466.4 808.2,459.6 814.9,460.6 830.2,450.6 837.2,444.0 840.2,429.5 850.6,420.5 862.9,416.1 866.2,409.4 857.1,400.4"/>
<polyline class="inner" points="840.2,429.5 846.2,436.2 843.9,445.1 850.6,456.4 864.0,460.6 870.7,456.4 884.2,460.6 886.2,469.6"/>
<polyline class="inner" points="765.9,524.7 779.3,530.3 794.9,526.8 808.3,532.5 815.0,539.2 823.9,536.8 830.6,543.7"/>
<polyline class="inner" points="1213.5,119.7 1213.5,149.7 1218.5,164.8 1228.6,182.6 1222.3,194.9 1222.4,209.9"/>
<polyline class="inner" points="1244.9,196.5 1256.0,207.9 1267.6,207.9 1274.9,197.7 1270.9,189.9 1288.9,184.8 1298.9,169.8"/>
<polyline class="inner" points="1247.5,250.5 1256.0,245.5 1276.0,246.8 1291.0,256.8 1304.0,255.5 1305.0,240.5 1321.5,233.0 1329.0,223.9"/>
<polyline class="inner" points="1273.8,275.7 1281.0,272.1 1299.0,260.6 1321.5,263.1 1341.6,266.9 1351.6,265.7"/>
<polyline class="inner" points="777.2,644.0 785.2,645.7 799.1,653.8 816.4,652.1 836.4,649.1 856.7,643.4 868.3,648.0 873.4,649.1"/>
<polyline class="inner" points="1088.5,230.5 1081.0,240.0 1073.9,248.3 1075.0,258.8 1062.4,266.1 1058.0,275.6 1053.0,283.1 1057.0,292.1 1051.0,300.2"/>
<polyline class="inner" points="1181.5,182.2 1189.9,191.7 1185.7,199.9 1187.9,208.5 1177.4,220.9 1175.4,233.7 1179.0,245.0 1171.0,255.0"/>
<polyline class="inner" points="1100.0,229.5 1104.0,244.0 1114.7,250.4 1118.9,254.6 1131.0,256.0 1144.0,252.5 1156.5,242.0 1163.0,236.0"/>
<g class="dots"><circle cx="1141.9" cy="125.1" r="2.6"/><circle cx="1239.5" cy="194.2" r="2.6"/><circle cx="1226.5" cy="234.5" r="2.6"/><circle cx="1135.1" cy="237.8" r="2.6"/><circle cx="997.1" cy="247.1" r="2.6"/><circle cx="1080.9" cy="277.7" r="2.6"/><circle cx="1121.3" cy="304.8" r="2.6"/><circle cx="1171.0" cy="292.1" r="2.6"/><circle cx="1223.7" cy="270.1" r="2.6"/><circle cx="1289.3" cy="300.4" r="2.6"/><circle cx="1185.1" cy="321.0" r="2.6"/><circle cx="1116.1" cy="330.8" r="2.6"/><circle cx="960.6" cy="344.8" r="2.6"/><circle cx="806.2" cy="379.0" r="2.6"/><circle cx="1059.8" cy="399.4" r="2.6"/><circle cx="891.9" cy="425.5" r="2.6"/><circle cx="985.2" cy="433.3" r="2.6"/><circle cx="913.0" cy="452.6" r="2.6"/><circle cx="942.2" cy="473.9" r="2.6"/><circle cx="1177.5" cy="447.6" r="2.6"/><circle cx="854.7" cy="506.5" r="2.6"/><circle cx="934.3" cy="531.8" r="2.6"/><circle cx="808.2" cy="569.4" r="2.6"/><circle cx="879.6" cy="583.3" r="2.6"/><circle cx="817.1" cy="636.1" r="2.6"/><circle cx="820.1" cy="668.8" r="2.6"/></g>
<g class="b1"><line x1="1141.9" y1="125.1" x2="1239.5" y2="194.2"/><line x1="1141.9" y1="125.1" x2="1135.1" y2="237.8"/><line x1="1141.9" y1="125.1" x2="1171.0" y2="292.1"/><line x1="1141.9" y1="125.1" x2="1223.7" y2="270.1"/><line x1="1141.9" y1="125.1" x2="1289.3" y2="300.4"/><line x1="1141.9" y1="125.1" x2="1185.1" y2="321.0"/><line x1="1141.9" y1="125.1" x2="1116.1" y2="330.8"/><line x1="1141.9" y1="125.1" x2="960.6" y2="344.8"/><line x1="1141.9" y1="125.1" x2="806.2" y2="379.0"/><line x1="1141.9" y1="125.1" x2="1059.8" y2="399.4"/><line x1="1141.9" y1="125.1" x2="985.2" y2="433.3"/><line x1="1141.9" y1="125.1" x2="913.0" y2="452.6"/><line x1="1141.9" y1="125.1" x2="854.7" y2="506.5"/><line x1="1141.9" y1="125.1" x2="934.3" y2="531.8"/><line x1="1141.9" y1="125.1" x2="808.2" y2="569.4"/><line x1="1141.9" y1="125.1" x2="879.6" y2="583.3"/><line x1="1141.9" y1="125.1" x2="817.1" y2="636.1"/><line x1="1141.9" y1="125.1" x2="820.1" y2="668.8"/><line x1="1239.5" y1="194.2" x2="1080.9" y2="277.7"/><line x1="1239.5" y1="194.2" x2="1171.0" y2="292.1"/><line x1="1239.5" y1="194.2" x2="1223.7" y2="270.1"/><line x1="1239.5" y1="194.2" x2="1289.3" y2="300.4"/><line x1="1239.5" y1="194.2" x2="1185.1" y2="321.0"/><line x1="1239.5" y1="194.2" x2="806.2" y2="379.0"/><line x1="1239.5" y1="194.2" x2="985.2" y2="433.3"/><line x1="1239.5" y1="194.2" x2="913.0" y2="452.6"/><line x1="1239.5" y1="194.2" x2="942.2" y2="473.9"/><line x1="1239.5" y1="194.2" x2="934.3" y2="531.8"/><line x1="1239.5" y1="194.2" x2="808.2" y2="569.4"/><line x1="1239.5" y1="194.2" x2="879.6" y2="583.3"/><line x1="1239.5" y1="194.2" x2="817.1" y2="636.1"/><line x1="1239.5" y1="194.2" x2="820.1" y2="668.8"/><line x1="1226.5" y1="234.5" x2="1116.1" y2="330.8"/><line x1="1226.5" y1="234.5" x2="960.6" y2="344.8"/><line x1="1226.5" y1="234.5" x2="806.2" y2="379.0"/><line x1="1226.5" y1="234.5" x2="913.0" y2="452.6"/><line x1="1226.5" y1="234.5" x2="934.3" y2="531.8"/><line x1="1226.5" y1="234.5" x2="879.6" y2="583.3"/><line x1="1226.5" y1="234.5" x2="817.1" y2="636.1"/><line x1="1226.5" y1="234.5" x2="820.1" y2="668.8"/><line x1="1135.1" y1="237.8" x2="997.1" y2="247.1"/><line x1="1135.1" y1="237.8" x2="1080.9" y2="277.7"/><line x1="1135.1" y1="237.8" x2="1121.3" y2="304.8"/><line x1="1135.1" y1="237.8" x2="1171.0" y2="292.1"/><line x1="1135.1" y1="237.8" x2="1223.7" y2="270.1"/><line x1="1135.1" y1="237.8" x2="1289.3" y2="300.4"/><line x1="1135.1" y1="237.8" x2="1185.1" y2="321.0"/><line x1="1135.1" y1="237.8" x2="1116.1" y2="330.8"/><line x1="1135.1" y1="237.8" x2="960.6" y2="344.8"/><line x1="1135.1" y1="237.8" x2="806.2" y2="379.0"/><line x1="1135.1" y1="237.8" x2="1059.8" y2="399.4"/><line x1="1135.1" y1="237.8" x2="985.2" y2="433.3"/><line x1="1135.1" y1="237.8" x2="913.0" y2="452.6"/><line x1="1135.1" y1="237.8" x2="942.2" y2="473.9"/><line x1="1135.1" y1="237.8" x2="1177.5" y2="447.6"/><line x1="1135.1" y1="237.8" x2="854.7" y2="506.5"/><line x1="1135.1" y1="237.8" x2="934.3" y2="531.8"/><line x1="1135.1" y1="237.8" x2="808.2" y2="569.4"/><line x1="1135.1" y1="237.8" x2="879.6" y2="583.3"/><line x1="1135.1" y1="237.8" x2="817.1" y2="636.1"/><line x1="1135.1" y1="237.8" x2="820.1" y2="668.8"/><line x1="997.1" y1="247.1" x2="1080.9" y2="277.7"/><line x1="997.1" y1="247.1" x2="1121.3" y2="304.8"/><line x1="997.1" y1="247.1" x2="1171.0" y2="292.1"/><line x1="997.1" y1="247.1" x2="1223.7" y2="270.1"/><line x1="997.1" y1="247.1" x2="1289.3" y2="300.4"/><line x1="997.1" y1="247.1" x2="1185.1" y2="321.0"/><line x1="997.1" y1="247.1" x2="1116.1" y2="330.8"/><line x1="997.1" y1="247.1" x2="960.6" y2="344.8"/><line x1="997.1" y1="247.1" x2="806.2" y2="379.0"/><line x1="997.1" y1="247.1" x2="1059.8" y2="399.4"/><line x1="997.1" y1="247.1" x2="913.0" y2="452.6"/><line x1="997.1" y1="247.1" x2="1177.5" y2="447.6"/><line x1="997.1" y1="247.1" x2="854.7" y2="506.5"/><line x1="997.1" y1="247.1" x2="934.3" y2="531.8"/><line x1="997.1" y1="247.1" x2="879.6" y2="583.3"/><line x1="997.1" y1="247.1" x2="820.1" y2="668.8"/><line x1="1080.9" y1="277.7" x2="1121.3" y2="304.8"/><line x1="1080.9" y1="277.7" x2="1171.0" y2="292.1"/><line x1="1080.9" y1="277.7" x2="1223.7" y2="270.1"/><line x1="1080.9" y1="277.7" x2="1289.3" y2="300.4"/><line x1="1080.9" y1="277.7" x2="1185.1" y2="321.0"/><line x1="1080.9" y1="277.7" x2="1116.1" y2="330.8"/><line x1="1080.9" y1="277.7" x2="960.6" y2="344.8"/><line x1="1080.9" y1="277.7" x2="806.2" y2="379.0"/><line x1="1080.9" y1="277.7" x2="1059.8" y2="399.4"/><line x1="1080.9" y1="277.7" x2="985.2" y2="433.3"/><line x1="1080.9" y1="277.7" x2="913.0" y2="452.6"/><line x1="1080.9" y1="277.7" x2="1177.5" y2="447.6"/><line x1="1080.9" y1="277.7" x2="854.7" y2="506.5"/><line x1="1080.9" y1="277.7" x2="934.3" y2="531.8"/><line x1="1080.9" y1="277.7" x2="879.6" y2="583.3"/><line x1="1080.9" y1="277.7" x2="820.1" y2="668.8"/><line x1="1121.3" y1="304.8" x2="1289.3" y2="300.4"/><line x1="1121.3" y1="304.8" x2="960.6" y2="344.8"/><line x1="1121.3" y1="304.8" x2="806.2" y2="379.0"/><line x1="1121.3" y1="304.8" x2="985.2" y2="433.3"/><line x1="1121.3" y1="304.8" x2="854.7" y2="506.5"/><line x1="1121.3" y1="304.8" x2="934.3" y2="531.8"/><line x1="1121.3" y1="304.8" x2="808.2" y2="569.4"/><line x1="1121.3" y1="304.8" x2="817.1" y2="636.1"/><line x1="1171.0" y1="292.1" x2="1223.7" y2="270.1"/><line x1="1171.0" y1="292.1" x2="1289.3" y2="300.4"/><line x1="1171.0" y1="292.1" x2="1185.1" y2="321.0"/><line x1="1171.0" y1="292.1" x2="1116.1" y2="330.8"/><line x1="1171.0" y1="292.1" x2="960.6" y2="344.8"/><line x1="1171.0" y1="292.1" x2="806.2" y2="379.0"/><line x1="1171.0" y1="292.1" x2="1059.8" y2="399.4"/><line x1="1171.0" y1="292.1" x2="985.2" y2="433.3"/><line x1="1171.0" y1="292.1" x2="942.2" y2="473.9"/><line x1="1171.0" y1="292.1" x2="808.2" y2="569.4"/><line x1="1171.0" y1="292.1" x2="879.6" y2="583.3"/><line x1="1171.0" y1="292.1" x2="820.1" y2="668.8"/><line x1="1223.7" y1="270.1" x2="1185.1" y2="321.0"/><line x1="1223.7" y1="270.1" x2="1116.1" y2="330.8"/><line x1="1223.7" y1="270.1" x2="960.6" y2="344.8"/><line x1="1223.7" y1="270.1" x2="806.2" y2="379.0"/><line x1="1223.7" y1="270.1" x2="985.2" y2="433.3"/><line x1="1223.7" y1="270.1" x2="913.0" y2="452.6"/><line x1="1223.7" y1="270.1" x2="1177.5" y2="447.6"/><line x1="1223.7" y1="270.1" x2="820.1" y2="668.8"/><line x1="1289.3" y1="300.4" x2="1185.1" y2="321.0"/><line x1="1289.3" y1="300.4" x2="1116.1" y2="330.8"/><line x1="1289.3" y1="300.4" x2="960.6" y2="344.8"/><line x1="1289.3" y1="300.4" x2="806.2" y2="379.0"/><line x1="1289.3" y1="300.4" x2="1059.8" y2="399.4"/><line x1="1289.3" y1="300.4" x2="985.2" y2="433.3"/><line x1="1289.3" y1="300.4" x2="913.0" y2="452.6"/><line x1="1289.3" y1="300.4" x2="942.2" y2="473.9"/><line x1="1289.3" y1="300.4" x2="854.7" y2="506.5"/><line x1="1289.3" y1="300.4" x2="934.3" y2="531.8"/><line x1="1289.3" y1="300.4" x2="808.2" y2="569.4"/><line x1="1289.3" y1="300.4" x2="879.6" y2="583.3"/><line x1="1289.3" y1="300.4" x2="817.1" y2="636.1"/><line x1="1289.3" y1="300.4" x2="820.1" y2="668.8"/><line x1="1185.1" y1="321.0" x2="806.2" y2="379.0"/><line x1="1185.1" y1="321.0" x2="985.2" y2="433.3"/><line x1="1185.1" y1="321.0" x2="879.6" y2="583.3"/><line x1="1185.1" y1="321.0" x2="817.1" y2="636.1"/><line x1="1116.1" y1="330.8" x2="960.6" y2="344.8"/><line x1="1116.1" y1="330.8" x2="806.2" y2="379.0"/><line x1="1116.1" y1="330.8" x2="1059.8" y2="399.4"/><line x1="1116.1" y1="330.8" x2="985.2" y2="433.3"/><line x1="1116.1" y1="330.8" x2="913.0" y2="452.6"/><line x1="1116.1" y1="330.8" x2="942.2" y2="473.9"/><line x1="1116.1" y1="330.8" x2="1177.5" y2="447.6"/><line x1="1116.1" y1="330.8" x2="854.7" y2="506.5"/><line x1="1116.1" y1="330.8" x2="808.2" y2="569.4"/><line x1="1116.1" y1="330.8" x2="879.6" y2="583.3"/><line x1="960.6" y1="344.8" x2="806.2" y2="379.0"/><line x1="960.6" y1="344.8" x2="1059.8" y2="399.4"/><line x1="960.6" y1="344.8" x2="985.2" y2="433.3"/><line x1="960.6" y1="344.8" x2="913.0" y2="452.6"/><line x1="960.6" y1="344.8" x2="942.2" y2="473.9"/><line x1="960.6" y1="344.8" x2="1177.5" y2="447.6"/><line x1="960.6" y1="344.8" x2="854.7" y2="506.5"/><line x1="960.6" y1="344.8" x2="934.3" y2="531.8"/><line x1="960.6" y1="344.8" x2="879.6" y2="583.3"/><line x1="960.6" y1="344.8" x2="817.1" y2="636.1"/><line x1="960.6" y1="344.8" x2="820.1" y2="668.8"/><line x1="806.2" y1="379.0" x2="1059.8" y2="399.4"/><line x1="806.2" y1="379.0" x2="985.2" y2="433.3"/><line x1="806.2" y1="379.0" x2="1177.5" y2="447.6"/><line x1="806.2" y1="379.0" x2="934.3" y2="531.8"/><line x1="806.2" y1="379.0" x2="879.6" y2="583.3"/><line x1="1059.8" y1="399.4" x2="913.0" y2="452.6"/><line x1="1059.8" y1="399.4" x2="934.3" y2="531.8"/><line x1="1059.8" y1="399.4" x2="808.2" y2="569.4"/><line x1="1059.8" y1="399.4" x2="817.1" y2="636.1"/><line x1="985.2" y1="433.3" x2="913.0" y2="452.6"/><line x1="985.2" y1="433.3" x2="854.7" y2="506.5"/><line x1="985.2" y1="433.3" x2="934.3" y2="531.8"/><line x1="985.2" y1="433.3" x2="808.2" y2="569.4"/><line x1="985.2" y1="433.3" x2="879.6" y2="583.3"/><line x1="913.0" y1="452.6" x2="1177.5" y2="447.6"/><line x1="913.0" y1="452.6" x2="854.7" y2="506.5"/><line x1="913.0" y1="452.6" x2="934.3" y2="531.8"/><line x1="913.0" y1="452.6" x2="808.2" y2="569.4"/><line x1="913.0" y1="452.6" x2="817.1" y2="636.1"/><line x1="913.0" y1="452.6" x2="820.1" y2="668.8"/><line x1="942.2" y1="473.9" x2="934.3" y2="531.8"/><line x1="942.2" y1="473.9" x2="879.6" y2="583.3"/><line x1="942.2" y1="473.9" x2="817.1" y2="636.1"/><line x1="942.2" y1="473.9" x2="820.1" y2="668.8"/><line x1="1177.5" y1="447.6" x2="879.6" y2="583.3"/><line x1="854.7" y1="506.5" x2="879.6" y2="583.3"/><line x1="854.7" y1="506.5" x2="817.1" y2="636.1"/><line x1="854.7" y1="506.5" x2="820.1" y2="668.8"/><line x1="934.3" y1="531.8" x2="808.2" y2="569.4"/><line x1="934.3" y1="531.8" x2="879.6" y2="583.3"/><line x1="934.3" y1="531.8" x2="817.1" y2="636.1"/><line x1="879.6" y1="583.3" x2="820.1" y2="668.8"/></g>
<g class="b4"><line x1="891.9" y1="425.5" x2="879.6" y2="583.3"/><line x1="1226.5" y1="234.5" x2="942.2" y2="473.9"/><line x1="1177.5" y1="447.6" x2="942.2" y2="473.9"/><line x1="891.9" y1="425.5" x2="934.3" y2="531.8"/><line x1="1226.5" y1="234.5" x2="808.2" y2="569.4"/><line x1="891.9" y1="425.5" x2="1121.3" y2="304.8"/></g>
<g class="b2"><line x1="1141.9" y1="125.1" x2="1226.5" y2="234.5"/><line x1="1141.9" y1="125.1" x2="997.1" y2="247.1"/><line x1="1141.9" y1="125.1" x2="1080.9" y2="277.7"/><line x1="1141.9" y1="125.1" x2="1121.3" y2="304.8"/><line x1="1141.9" y1="125.1" x2="891.9" y2="425.5"/><line x1="1141.9" y1="125.1" x2="942.2" y2="473.9"/><line x1="1141.9" y1="125.1" x2="1177.5" y2="447.6"/><line x1="1239.5" y1="194.2" x2="1135.1" y2="237.8"/><line x1="1239.5" y1="194.2" x2="997.1" y2="247.1"/><line x1="1239.5" y1="194.2" x2="1121.3" y2="304.8"/><line x1="1239.5" y1="194.2" x2="1116.1" y2="330.8"/><line x1="1239.5" y1="194.2" x2="960.6" y2="344.8"/><line x1="1239.5" y1="194.2" x2="1059.8" y2="399.4"/><line x1="1239.5" y1="194.2" x2="891.9" y2="425.5"/><line x1="1239.5" y1="194.2" x2="854.7" y2="506.5"/><line x1="1226.5" y1="234.5" x2="997.1" y2="247.1"/><line x1="1226.5" y1="234.5" x2="1223.7" y2="270.1"/><line x1="1226.5" y1="234.5" x2="854.7" y2="506.5"/><line x1="1135.1" y1="237.8" x2="891.9" y2="425.5"/><line x1="997.1" y1="247.1" x2="985.2" y2="433.3"/><line x1="997.1" y1="247.1" x2="942.2" y2="473.9"/><line x1="997.1" y1="247.1" x2="808.2" y2="569.4"/><line x1="997.1" y1="247.1" x2="817.1" y2="636.1"/><line x1="1080.9" y1="277.7" x2="942.2" y2="473.9"/><line x1="1080.9" y1="277.7" x2="808.2" y2="569.4"/><line x1="1080.9" y1="277.7" x2="817.1" y2="636.1"/><line x1="1121.3" y1="304.8" x2="1171.0" y2="292.1"/><line x1="1121.3" y1="304.8" x2="1223.7" y2="270.1"/><line x1="1121.3" y1="304.8" x2="1185.1" y2="321.0"/><line x1="1121.3" y1="304.8" x2="1116.1" y2="330.8"/><line x1="1121.3" y1="304.8" x2="1059.8" y2="399.4"/><line x1="1121.3" y1="304.8" x2="913.0" y2="452.6"/><line x1="1121.3" y1="304.8" x2="942.2" y2="473.9"/><line x1="1121.3" y1="304.8" x2="879.6" y2="583.3"/><line x1="1121.3" y1="304.8" x2="820.1" y2="668.8"/><line x1="1171.0" y1="292.1" x2="913.0" y2="452.6"/><line x1="1171.0" y1="292.1" x2="1177.5" y2="447.6"/><line x1="1171.0" y1="292.1" x2="854.7" y2="506.5"/><line x1="1171.0" y1="292.1" x2="934.3" y2="531.8"/><line x1="1171.0" y1="292.1" x2="817.1" y2="636.1"/><line x1="1223.7" y1="270.1" x2="1289.3" y2="300.4"/><line x1="1223.7" y1="270.1" x2="1059.8" y2="399.4"/><line x1="1223.7" y1="270.1" x2="942.2" y2="473.9"/><line x1="1223.7" y1="270.1" x2="854.7" y2="506.5"/><line x1="1223.7" y1="270.1" x2="934.3" y2="531.8"/><line x1="1223.7" y1="270.1" x2="808.2" y2="569.4"/><line x1="1223.7" y1="270.1" x2="879.6" y2="583.3"/><line x1="1223.7" y1="270.1" x2="817.1" y2="636.1"/><line x1="1185.1" y1="321.0" x2="1116.1" y2="330.8"/><line x1="1185.1" y1="321.0" x2="960.6" y2="344.8"/><line x1="1185.1" y1="321.0" x2="1059.8" y2="399.4"/><line x1="1185.1" y1="321.0" x2="913.0" y2="452.6"/><line x1="1185.1" y1="321.0" x2="942.2" y2="473.9"/><line x1="1185.1" y1="321.0" x2="854.7" y2="506.5"/><line x1="1185.1" y1="321.0" x2="934.3" y2="531.8"/><line x1="1185.1" y1="321.0" x2="808.2" y2="569.4"/><line x1="1185.1" y1="321.0" x2="820.1" y2="668.8"/><line x1="1116.1" y1="330.8" x2="934.3" y2="531.8"/><line x1="1116.1" y1="330.8" x2="817.1" y2="636.1"/><line x1="1116.1" y1="330.8" x2="820.1" y2="668.8"/><line x1="960.6" y1="344.8" x2="808.2" y2="569.4"/><line x1="806.2" y1="379.0" x2="913.0" y2="452.6"/><line x1="1059.8" y1="399.4" x2="985.2" y2="433.3"/><line x1="1059.8" y1="399.4" x2="942.2" y2="473.9"/><line x1="1059.8" y1="399.4" x2="1177.5" y2="447.6"/><line x1="1059.8" y1="399.4" x2="854.7" y2="506.5"/><line x1="1059.8" y1="399.4" x2="879.6" y2="583.3"/><line x1="1059.8" y1="399.4" x2="820.1" y2="668.8"/><line x1="985.2" y1="433.3" x2="817.1" y2="636.1"/><line x1="985.2" y1="433.3" x2="820.1" y2="668.8"/><line x1="913.0" y1="452.6" x2="942.2" y2="473.9"/><line x1="913.0" y1="452.6" x2="879.6" y2="583.3"/><line x1="854.7" y1="506.5" x2="934.3" y2="531.8"/><line x1="934.3" y1="531.8" x2="820.1" y2="668.8"/><line x1="879.6" y1="583.3" x2="817.1" y2="636.1"/></g>
<g class="b3"><line x1="1226.5" y1="234.5" x2="1239.5" y2="194.2"/><line x1="806.2" y1="379.0" x2="808.2" y2="569.4"/><line x1="806.2" y1="379.0" x2="817.1" y2="636.1"/><line x1="1177.5" y1="447.6" x2="1289.3" y2="300.4"/><line x1="1177.5" y1="447.6" x2="808.2" y2="569.4"/><line x1="1226.5" y1="234.5" x2="1135.1" y2="237.8"/><line x1="1177.5" y1="447.6" x2="985.2" y2="433.3"/><line x1="806.2" y1="379.0" x2="942.2" y2="473.9"/><line x1="806.2" y1="379.0" x2="854.7" y2="506.5"/><line x1="891.9" y1="425.5" x2="1080.9" y2="277.7"/><line x1="891.9" y1="425.5" x2="1116.1" y2="330.8"/><line x1="1177.5" y1="447.6" x2="1185.1" y2="321.0"/><line x1="942.2" y1="473.9" x2="808.2" y2="569.4"/><line x1="942.2" y1="473.9" x2="985.2" y2="433.3"/><line x1="942.2" y1="473.9" x2="854.7" y2="506.5"/><line x1="1226.5" y1="234.5" x2="1080.9" y2="277.7"/><line x1="1226.5" y1="234.5" x2="1171.0" y2="292.1"/><line x1="1177.5" y1="447.6" x2="1239.5" y2="194.2"/><line x1="1177.5" y1="447.6" x2="1121.3" y2="304.8"/><line x1="808.2" y1="569.4" x2="879.6" y2="583.3"/><line x1="820.1" y1="668.8" x2="817.1" y2="636.1"/><line x1="1226.5" y1="234.5" x2="1059.8" y2="399.4"/><line x1="1226.5" y1="234.5" x2="985.2" y2="433.3"/><line x1="1177.5" y1="447.6" x2="934.3" y2="531.8"/><line x1="1177.5" y1="447.6" x2="820.1" y2="668.8"/><line x1="806.2" y1="379.0" x2="820.1" y2="668.8"/><line x1="1177.5" y1="447.6" x2="854.7" y2="506.5"/><line x1="1177.5" y1="447.6" x2="817.1" y2="636.1"/><line x1="891.9" y1="425.5" x2="1171.0" y2="292.1"/><line x1="891.9" y1="425.5" x2="1185.1" y2="321.0"/><line x1="891.9" y1="425.5" x2="1223.7" y2="270.1"/></g>
<g class="b4"><line x1="891.9" y1="425.5" x2="1226.5" y2="234.5"/><line x1="1226.5" y1="234.5" x2="1289.3" y2="300.4"/><line x1="1289.3" y1="300.4" x2="891.9" y2="425.5"/><line x1="891.9" y1="425.5" x2="997.1" y2="247.1"/><line x1="808.2" y1="569.4" x2="820.1" y2="668.8"/><line x1="891.9" y1="425.5" x2="820.1" y2="668.8"/><line x1="891.9" y1="425.5" x2="854.7" y2="506.5"/><line x1="891.9" y1="425.5" x2="817.1" y2="636.1"/><line x1="891.9" y1="425.5" x2="985.2" y2="433.3"/><line x1="891.9" y1="425.5" x2="913.0" y2="452.6"/><line x1="891.9" y1="425.5" x2="960.6" y2="344.8"/><line x1="1226.5" y1="234.5" x2="1185.1" y2="321.0"/><line x1="1226.5" y1="234.5" x2="1121.3" y2="304.8"/><line x1="808.2" y1="569.4" x2="817.1" y2="636.1"/><line x1="808.2" y1="569.4" x2="854.7" y2="506.5"/></g>
<g class="b5"><line x1="891.9" y1="425.5" x2="942.2" y2="473.9"/><line x1="891.9" y1="425.5" x2="808.2" y2="569.4"/><line x1="891.9" y1="425.5" x2="1177.5" y2="447.6"/><line x1="891.9" y1="425.5" x2="1059.8" y2="399.4"/><line x1="891.9" y1="425.5" x2="806.2" y2="379.0"/><line x1="1226.5" y1="234.5" x2="1177.5" y2="447.6"/></g>
<g class="lab r"><text x="1144.9" y="121.5">通辽市</text><text x="1242.9" y="191.1">铁岭市</text><text x="1230.4" y="230.2">沈阳市</text><text x="1139.6" y="235.2">阜新市</text><text x="1002.3" y="244.8">赤峰市</text><text x="1085.3" y="275.5">朝阳市</text><text x="1121.9" y="300.1">锦州市</text><text x="1173.9" y="288.8">盘锦市</text><text x="1226.6" y="267.5">辽阳市</text><text x="1292.2" y="297.0">丹东市</text><text x="1188.3" y="317.7">营口市</text><text x="1118.9" y="327.1">葫芦岛市</text><text x="964.5" y="341.2">承德市</text><text x="810.6" y="375.3">张家口市</text><text x="1062.9" y="395.5">秦皇岛市</text><text x="896.1" y="423.1">北京市</text><text x="994.4" y="429.3">唐山市</text><text x="916.8" y="448.1">廊坊市</text><text x="946.9" y="470.5">天津市</text><text x="1181.2" y="442.7">大连市</text><text x="861.8" y="502.5">保定市</text><text x="938.5" y="529.0">沧州市</text><text x="813.1" y="564.3">石家庄市</text><text x="882.5" y="577.5">衡水市</text><text x="821.9" y="630.9">邢台市</text><text x="824.4" y="662.9">邯郸市</text></g>
<text class="ttl ab" x="23.5" y="44.2">a.</text><text class="ttl" x="51.3" y="44.6">交通流联系</text>
<text class="ttl ab" x="725" y="46.3" style="font-size:28.5px">b.</text><text class="ttl" x="751.6" y="46.4" style="font-size:25.4px">信息流联系</text>
<text class="N" x="596.9" y="58.3" text-anchor="middle">N</text><polygon points="596.6,62.9 582.9,109.3 596.6,91.7" fill="#000"/><polygon points="596.6,64.4 608.9,107.7 596.6,91.7" fill="#fff" stroke="#000" stroke-width="1.4" stroke-linejoin="miter"/>
<text class="N" x="1299.7" y="57.2" text-anchor="middle">N</text><polygon points="1299.4,62.2 1285.7,108.6 1299.4,91.0" fill="#000"/><polygon points="1299.4,63.7 1311.7,107.0 1299.4,91.0" fill="#fff" stroke="#000" stroke-width="1.4" stroke-linejoin="miter"/>
<path d="M211.4 680.8V690.8H306.6V680.8M259.0 690.8V683.8" fill="none" stroke="#222" stroke-width="1.1"/><g class="sb" font-size="13.0"><text x="211.4" y="674.2" text-anchor="middle">0</text><text x="259.0" y="674.2" text-anchor="middle">75</text><text x="307.0" y="674.2" text-anchor="middle">150</text><text x="322.2" y="674.2">千米</text></g>
<path d="M908.6 680.5V690.5H1003.6V680.5M956.1 690.5V683.5" fill="none" stroke="#222" stroke-width="1.1"/><g class="sb" font-size="14.5"><text x="908.6" y="672.0" text-anchor="middle">0</text><text x="956.1" y="672.0" text-anchor="middle">75</text><text x="1004.0" y="672.0" text-anchor="middle">150</text><text x="1020.0" y="672.0">千米</text></g>
<text class="lt" font-size="20.5" x="592.7" y="478.5" text-anchor="middle">图例</text><text class="lt" font-size="20.5" x="592.7" y="507.5" text-anchor="middle">联系强度</text><line class="lg a1" x1="530.0" y1="533.8" x2="583.0" y2="533.8"/><text class="ll" font-size="18.8" x="592.0 601.2 610.4 619.6 628.8 638.0" dy="0.0 0.0 -1.6 1.6 0.0 0.0" y="540.5" xml:space="preserve">0 – 13</text><line class="lg a2" x1="530.0" y1="569.3" x2="583.0" y2="569.3"/><text class="ll" font-size="18.8" x="592.0 601.2 610.4 619.6 628.8 638.0 647.2" dy="0.0 0.0 0.0 -1.6 1.6 0.0 0.0" y="576.0" xml:space="preserve">14 – 44</text><line class="lg a3" x1="530.0" y1="605.0" x2="583.0" y2="605.0"/><text class="ll" font-size="18.8" x="592.0 601.2 610.4 619.6 628.8 638.0 647.2" dy="0.0 0.0 0.0 -1.6 1.6 0.0 0.0" y="611.7" xml:space="preserve">45 – 91</text><line class="lg a4" x1="530.0" y1="640.8" x2="583.0" y2="640.8"/><text class="ll" font-size="18.8" x="592.0 601.2 610.4 619.6 628.8 638.0 647.2" dy="0.0 0.0 -1.6 1.6 0.0 0.0 0.0" y="647.5" xml:space="preserve">92– 191</text><line class="lg a5" x1="530.0" y1="676.3" x2="583.0" y2="676.3"/><text class="ll" font-size="18.8" x="592.0 601.2 610.4 619.6 628.8 638.0 647.2 656.4" dy="0.0 0.0 0.0 -1.6 1.6 0.0 0.0 0.0" y="683.0" xml:space="preserve">192– 347</text>
<text class="lt" font-size="19.9" x="1294.0" y="503.0" text-anchor="middle">图例</text><text class="lt" font-size="19.9" x="1289.3" y="532.5" text-anchor="middle">联系强度</text><line class="lg b1" x1="1231.4" y1="554.3" x2="1278.9" y2="554.3"/><text class="ll" font-size="16.8" x="1286.6 1294.8 1303.0 1311.2 1319.4 1327.6 1335.8" dy="0.0 0.0 -1.4 1.4 0.0 0.0 0.0" y="560.2" xml:space="preserve">8 – 104</text><line class="lg b2" x1="1231.4" y1="585.6" x2="1278.9" y2="585.6"/><text class="ll" font-size="16.8" x="1286.6 1294.8 1303.0 1311.2 1319.4 1327.6 1335.8 1344.0 1352.2" dy="0.0 0.0 0.0 0.0 -1.4 1.4 0.0 0.0 0.0" y="591.5" xml:space="preserve">105 – 204</text><line class="lg b3" x1="1231.4" y1="616.4" x2="1278.9" y2="616.4"/><text class="ll" font-size="16.8" x="1286.6 1294.8 1303.0 1311.2 1319.4 1327.6 1335.8 1344.0 1352.2" dy="0.0 0.0 0.0 0.0 -1.4 1.4 0.0 0.0 0.0" y="622.3" xml:space="preserve">205 – 376</text><line class="lg b4" x1="1231.4" y1="647.7" x2="1278.9" y2="647.7"/><text class="ll" font-size="16.8" x="1286.6 1294.8 1303.0 1311.2 1319.4 1327.6 1335.8 1344.0 1352.2" dy="0.0 0.0 0.0 0.0 -1.4 1.4 0.0 0.0 0.0" y="653.6" xml:space="preserve">377 – 675</text><line class="lg b5" x1="1231.4" y1="679.0" x2="1278.9" y2="679.0"/><text class="ll" font-size="16.8" x="1286.6 1294.8 1303.0 1311.2 1319.4 1327.6 1335.8 1344.0 1352.2 1360.4" dy="0.0 0.0 0.0 0.0 -1.4 1.4 0.0 0.0 0.0 0.0" y="684.9" xml:space="preserve">676 – 1478</text>
</svg>
</body></html>
